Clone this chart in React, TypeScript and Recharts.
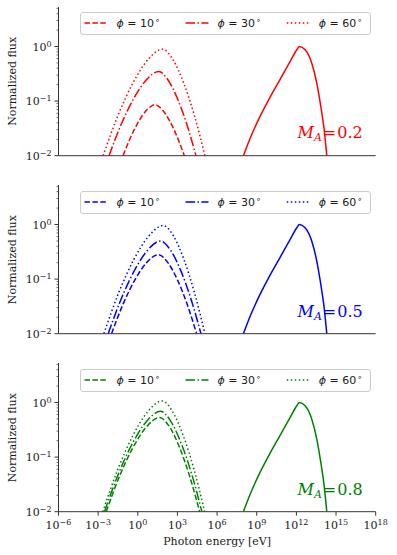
import { LineChart, Line, XAxis, YAxis, Legend } from "recharts";

// energies are stored as log10(E / eV), flux is normalized
const xTicks = [1e-6, 1e-3, 1, 1e3, 1e6, 1e9, 1e12, 1e15, 1e18];
const yTicks = [
  0.01, 0.02, 0.03, 0.04, 0.05, 0.06, 0.07, 0.08, 0.09,
  0.1, 0.2, 0.3, 0.4, 0.5, 0.6, 0.7, 0.8, 0.9,
  1, 2, 3, 4, 5,
];
const angleLabels = ["10", "30", "60"];
const machValues = ["0.2", "0.5", "0.8"];
const panelColors = ["red", "blue", "green"];

const highLogE = [7.99, 8.5, 9.25, 10.0, 10.77, 11.53, 12.03, 12.22, 12.66, 13.17, 13.55, 13.85, 14.1, 14.3];
const highFlux = [0.01, 0.0209, 0.0525, 0.1175, 0.251, 0.537, 0.871, 1.0, 0.87, 0.49, 0.21, 0.079, 0.03, 0.01];

const red10LogE = [-1.12, -0.515, 0.09, 0.695, 1.3, 1.855, 2.41, 2.965, 3.52];
const red10Flux = [0.01, 0.0225, 0.0434, 0.0693, 0.086, 0.0693, 0.0434, 0.0225, 0.01];
const red30LogE = [-2.18, -1.24, -0.3, 0.64, 1.58, 2.285, 2.99, 3.695, 4.4];
const red30Flux = [0.01, 0.0384, 0.1125, 0.244, 0.35, 0.244, 0.1125, 0.0384, 0.01];
const red60LogE = [-2.62, -1.5, -0.375, 0.75, 1.87, 2.67, 3.475, 4.28, 5.08];
const red60Flux = [0.01, 0.0547, 0.213, 0.569, 0.895, 0.569, 0.213, 0.0547, 0.01];

const blue10LogE = [-1.99, -1.105, -0.22, 0.665, 1.55, 2.275, 3.0, 3.725, 4.45];
const blue10Flux = [0.01, 0.0352, 0.0968, 0.2005, 0.28, 0.2005, 0.0968, 0.0352, 0.01];
const blue30LogE = [-2.24, -1.25, -0.26, 0.73, 1.72, 2.485, 3.25, 4.015, 4.78];
const blue30Flux = [0.01, 0.0438, 0.143, 0.336, 0.5, 0.336, 0.143, 0.0438, 0.01];
const blue60LogE = [-2.57, -1.445, -0.32, 0.805, 1.93, 2.72, 3.505, 4.29, 5.08];
const blue60Flux = [0.01, 0.0561, 0.224, 0.605, 0.96, 0.605, 0.224, 0.0561, 0.01];

const green10LogE = [-2.39, -1.38, -0.37, 0.64, 1.65, 2.41, 3.165, 3.92, 4.68];
const green10Flux = [0.01, 0.0449, 0.149, 0.355, 0.53, 0.355, 0.149, 0.0449, 0.01];
const green30LogE = [-2.52, -1.46, -0.4, 0.66, 1.72, 2.5, 3.285, 4.07, 4.85];
const green30Flux = [0.01, 0.0497, 0.179, 0.451, 0.69, 0.451, 0.179, 0.0497, 0.01];
const green60LogE = [-2.65, -1.525, -0.4, 0.725, 1.85, 2.65, 3.455, 4.26, 5.06];
const green60Flux = [0.01, 0.0585, 0.241, 0.668, 1.07, 0.668, 0.241, 0.0585, 0.01];

const toPoints = (logE: number[], flux: number[]) =>
  logE.map((x, i) => ({ e: Math.pow(10, x), f: flux[i] }));

const panelCurves = [
  [[red10LogE, red10Flux], [red30LogE, red30Flux], [red60LogE, red60Flux]],
  [[blue10LogE, blue10Flux], [blue30LogE, blue30Flux], [blue60LogE, blue60Flux]],
  [[green10LogE, green10Flux], [green30LogE, green30Flux], [green60LogE, green60Flux]],
];
const highData = toPoints(highLogE, highFlux);

const dashes = ["5.5 2.4", "9.6 2.4 1.5 2.4", "1.5 2.5"];

const W = 397;
const PLOT_LEFT = 58.5;
const PLOT_RIGHT = 375.7;
const PLOT_H = 148.7;
const PANEL_TOPS = [7, 185.3, 363.3];
const MT = 6;
const AXIS = "#333";
const SERIF = "'DejaVu Serif', 'Liberation Serif', serif";

const expLabel = (v: number) => {
  const n = Math.round(Math.log10(v));
  return n < 0 ? "\u2212" + Math.abs(n) : String(n);
};

const renderXTick = (props: any) => {
  const { x, payload } = props;
  return (
    <text x={x} y={MT + PLOT_H + 17} textAnchor="middle" style={{ fontFamily: SERIF }} fontSize={11} fill="#1a1a1a">
      <tspan>10</tspan>
      <tspan dy={-4} fontSize={8}>{expLabel(payload.value)}</tspan>
    </text>
  );
};

const renderYTick = (props: any) => {
  const { y, payload } = props;
  const v = payload.value;
  const lg = Math.log10(v);
  const major = Math.abs(lg - Math.round(lg)) < 1e-6;
  return (
    <g>
      <line x1={PLOT_LEFT - (major ? 4 : 2)} x2={PLOT_LEFT} y1={y} y2={y} stroke={AXIS} strokeWidth={major ? 1 : 0.7} />
      {major && (
        <text x={PLOT_LEFT - 7} y={y + 4} textAnchor="end" style={{ fontFamily: SERIF }} fontSize={11} fill="#1a1a1a">
          <tspan>10</tspan>
          <tspan dy={-4} fontSize={8}>{expLabel(v)}</tspan>
        </text>
      )}
    </g>
  );
};

function LegendBox({ color }: { color: string }) {
  const starts = [4.5, 105.5, 206.8];
  return (
    <svg width={292} height={24} style={{ display: "block" }}>
      <rect x={0.5} y={0.5} width={290} height={22} rx={2.5} fill="white" fillOpacity={0.8} stroke="#cccccc" />
      {angleLabels.map((a, i) => (
        <g key={a}>
          <line x1={starts[i]} x2={starts[i] + 23} y1={11} y2={11} stroke={color} strokeWidth={1.5} strokeDasharray={dashes[i]} />
          <text x={starts[i] + 32} y={15} style={{ fontFamily: "'DejaVu Sans', sans-serif" }} fontSize={11} fill="#1a1a1a">
            <tspan fontStyle="italic">{"\u03D5"}</tspan>
            <tspan>{" = " + a}</tspan>
            <tspan dx={1} dy={-4} fontSize={8}>{"\u2218"}</tspan>
          </text>
        </g>
      ))}
    </svg>
  );
}

function Panel({ index }: { index: number }) {
  const color = panelColors[index];
  const last = index === 2;
  const axisH = last ? 40 : 10;
  return (
    <div style={{ position: "absolute", left: 0, top: PANEL_TOPS[index] - MT }}>
      <LineChart
        width={W}
        height={MT + PLOT_H + axisH}
        margin={{ top: MT, right: W - PLOT_RIGHT, bottom: 0, left: 0 }}
      >
        <XAxis
          dataKey="e"
          type="number"
          scale="log"
          domain={[1e-6, 1e18]}
          allowDataOverflow
          ticks={xTicks}
          interval={0}
          tick={last ? renderXTick : false}
          tickSize={4}
          tickLine={{ stroke: AXIS }}
          axisLine={{ stroke: AXIS }}
          height={axisH}
        />
        <XAxis
          xAxisId="top"
          orientation="top"
          type="number"
          scale="log"
          domain={[1e-6, 1e18]}
          allowDataOverflow
          tick={false}
          tickLine={false}
          axisLine={{ stroke: AXIS }}
          height={0}
        />
        <YAxis
          type="number"
          scale="log"
          domain={[0.01, 5.3]}
          allowDataOverflow
          ticks={yTicks}
          interval={0}
          tick={renderYTick}
          tickLine={false}
          axisLine={{ stroke: AXIS }}
          width={PLOT_LEFT}
        />
        <YAxis
          yAxisId="right"
          orientation="right"
          type="number"
          scale="log"
          domain={[0.01, 5.3]}
          allowDataOverflow
          tick={false}
          tickLine={false}
          axisLine={{ stroke: AXIS }}
          width={0}
        />
        <Legend
          layout="horizontal"
          verticalAlign="middle"
          align="center"
          wrapperStyle={{ top: MT + 5.3, left: 80, width: 292, height: 24 }}
          content={() => <LegendBox color={color} />}
        />
        {panelCurves[index].map(([logE, flux], i) => (
          <Line
            key={i}
            data={toPoints(logE, flux)}
            dataKey="f"
            type="monotone"
            stroke={color}
            strokeWidth={1.5}
            strokeDasharray={dashes[i]}
            dot={false}
            activeDot={false}
            isAnimationActive={false}
          />
        ))}
        <Line
          data={highData}
          dataKey="f"
          type="monotone"
          stroke={color}
          strokeWidth={1.5}
          dot={false}
          activeDot={false}
          isAnimationActive={false}
        />
      </LineChart>
    </div>
  );
}

export default function App() {
  return (
    <div style={{ position: "absolute", left: 0, top: 0, width: W, height: 555, background: "white" }}>
      {[0, 1, 2].map((i) => (
        <Panel key={i} index={i} />
      ))}
      <svg width={W} height={555} style={{ position: "absolute", left: 0, top: 0, pointerEvents: "none" }}>
        {PANEL_TOPS.map((t, i) => (
          <g key={i}>
            <text
              transform={`translate(12.5, ${t + PLOT_H / 2}) rotate(-90)`}
              textAnchor="middle"
              dominantBaseline="central"
              style={{ fontFamily: SERIF }}
              fontSize={11}
              fill="#1a1a1a"
            >
              Normalized flux
            </text>
            <text x={297.5} y={t + 131.3} style={{ fontFamily: SERIF }} fontSize={16} fill={panelColors[i]}>
              <tspan fontStyle="italic">M</tspan>
              <tspan fontStyle="italic" fontSize={11} dy={3}>A</tspan>
              <tspan dy={-3} dx={1}>=</tspan>
              <tspan dx={1}>{machValues[i]}</tspan>
            </text>
          </g>
        ))}
        <text x={(PLOT_LEFT + PLOT_RIGHT) / 2} y={544.5} textAnchor="middle" style={{ fontFamily: SERIF }} fontSize={11} fill="#1a1a1a">
          Photon energy [eV]
        </text>
      </svg>
    </div>
  );
}
